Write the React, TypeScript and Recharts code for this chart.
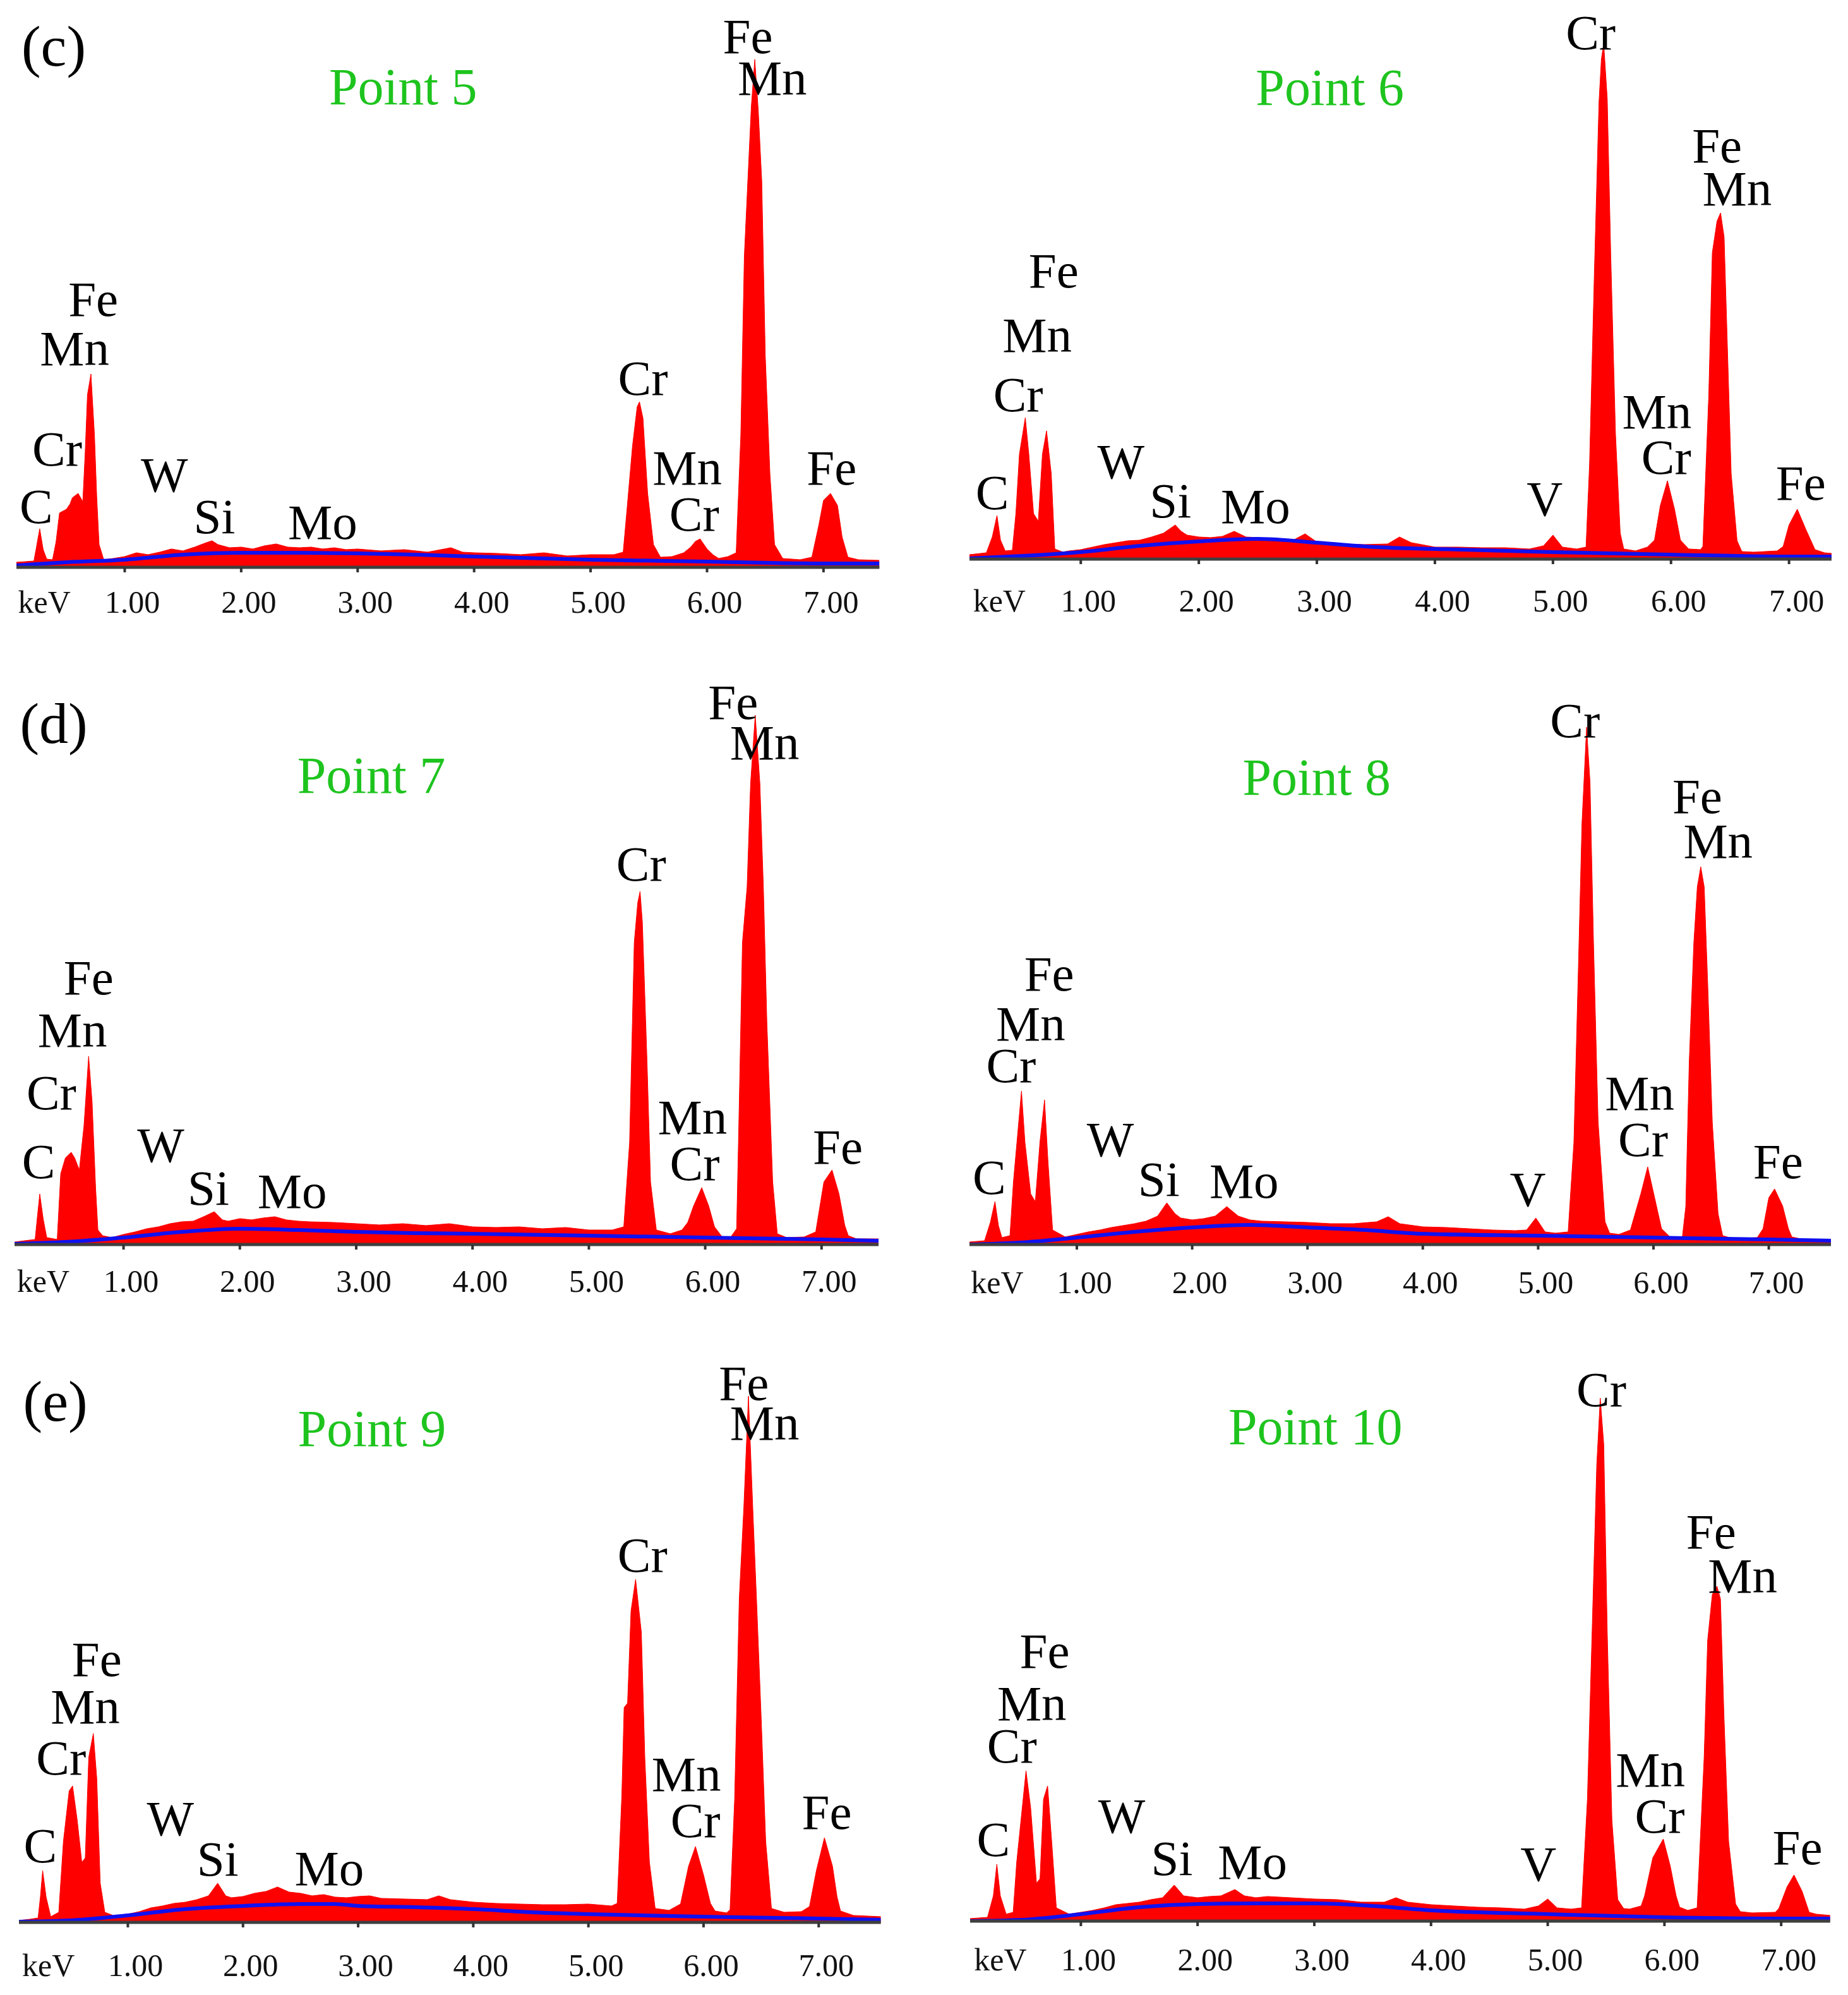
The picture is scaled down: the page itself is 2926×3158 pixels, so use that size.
import { useMemo } from "react";
import { Area, ComposedChart, Line, Scatter, XAxis, YAxis } from "recharts";

const SERIF = "'Liberation Serif', 'Times New Roman', Times, serif";
const RED = "#ff0000";
const BLUE = "#1010f0";
const GREEN = "#1ec41e";
const PLOT_H = 960;
const AXIS_H = 100;

const keVTicks = [1, 2, 3, 4, 5, 6, 7];

// [keV, counts] (counts = height above the axis)
const point5Spectrum = [
  [0.07, 8], [0.15, 9], [0.22, 10], [0.24, 30], [0.27, 61], [0.3, 28], [0.33, 13], [0.38, 12],
  [0.41, 40], [0.44, 86], [0.5, 92], [0.53, 100], [0.55, 110], [0.6, 117], [0.64, 104], [0.66, 180],
  [0.68, 273], [0.71, 306], [0.74, 210], [0.76, 110], [0.78, 36], [0.82, 12], [0.9, 14], [1.0, 17],
  [1.1, 23], [1.2, 20], [1.3, 24], [1.4, 29], [1.5, 26], [1.6, 32], [1.7, 39], [1.75, 42], [1.8, 36],
  [1.9, 31], [2.0, 32], [2.1, 29], [2.2, 34], [2.3, 37], [2.4, 32], [2.5, 31], [2.6, 32], [2.7, 29],
  [2.8, 31], [2.9, 28], [3.0, 29], [3.2, 26], [3.4, 28], [3.6, 24], [3.8, 31], [3.9, 24], [4.0, 23],
  [4.2, 22], [4.4, 20], [4.6, 23], [4.8, 18], [5.0, 20], [5.2, 20], [5.28, 24], [5.31, 86], [5.36, 192],
  [5.4, 254], [5.42, 262], [5.45, 236], [5.49, 117], [5.54, 36], [5.6, 16], [5.7, 17], [5.8, 23],
  [5.86, 32], [5.9, 41], [5.94, 45], [6.0, 29], [6.05, 20], [6.1, 14], [6.18, 17], [6.25, 23],
  [6.29, 210], [6.32, 492], [6.35, 611], [6.38, 729], [6.41, 804], [6.44, 723], [6.47, 611], [6.5, 336],
  [6.54, 148], [6.58, 36], [6.65, 14], [6.8, 12], [6.9, 16], [6.96, 67], [7.0, 106], [7.06, 117],
  [7.12, 98], [7.16, 48], [7.21, 16], [7.3, 12], [7.48, 11],
];
const point5Background = [
  [0.07, 3], [0.5, 8], [1.0, 12], [1.5, 20], [2.0, 23], [2.5, 23], [3.0, 22], [3.5, 20], [4.0, 17],
  [5.0, 12], [6.0, 9], [7.0, 6], [7.48, 6],
];
const point5Peaks = [
  ["Fe", 6.35, 814], ["Mn", 6.56, 748], ["Fe", 0.73, 398], ["Mn", 0.57, 320], ["Cr", 0.42, 161],
  ["C", 0.24, 70], ["W", 1.34, 120], ["Si", 1.77, 54], ["Mo", 2.7, 45], ["Cr", 5.45, 273],
  ["Mn", 5.83, 131], ["Cr", 5.89, 58], ["Fe", 7.07, 131],
];

const point6Spectrum = [
  [0.057, 7], [0.2, 10], [0.25, 35], [0.29, 69], [0.32, 30], [0.36, 13], [0.42, 14], [0.45, 72],
  [0.48, 166], [0.53, 224], [0.56, 166], [0.6, 72], [0.64, 60], [0.675, 166], [0.71, 203], [0.75, 135],
  [0.78, 16], [0.85, 11], [0.9, 13], [1.0, 15], [1.1, 19], [1.2, 23], [1.3, 26], [1.4, 29], [1.5, 30],
  [1.6, 35], [1.7, 41], [1.8, 54], [1.85, 44], [1.9, 38], [2.0, 35], [2.1, 34], [2.2, 36], [2.3, 44],
  [2.4, 35], [2.5, 34], [2.6, 32], [2.8, 30], [2.9, 40], [3.0, 27], [3.2, 24], [3.4, 23], [3.6, 24],
  [3.7, 35], [3.8, 26], [4.0, 19], [4.2, 19], [4.4, 18], [4.6, 18], [4.8, 16], [4.92, 21], [5.0, 38],
  [5.08, 19], [5.2, 16], [5.28, 19], [5.31, 150], [5.35, 448], [5.39, 723], [5.41, 791], [5.43, 816],
  [5.46, 729], [5.49, 479], [5.53, 198], [5.57, 41], [5.6, 16], [5.7, 13], [5.8, 19], [5.86, 30],
  [5.91, 85], [5.97, 124], [6.03, 79], [6.08, 30], [6.15, 16], [6.25, 15], [6.27, 20], [6.32, 260],
  [6.35, 485], [6.39, 535], [6.42, 548], [6.45, 510], [6.48, 323], [6.51, 135], [6.56, 29], [6.6, 12],
  [6.7, 11], [6.9, 13], [6.95, 20], [7.0, 54], [7.07, 79], [7.14, 48], [7.22, 15], [7.3, 10], [7.36, 9],
];
const point6Background = [
  [0.057, 1], [0.5, 5], [1.0, 11], [1.5, 21], [2.0, 28], [2.5, 32], [3.0, 26], [3.5, 19], [4.0, 16],
  [5.0, 11], [6.0, 7], [7.0, 4], [7.36, 4],
];
const point6Peaks = [
  ["Cr", 5.32, 807], ["Fe", 6.39, 628], ["Mn", 6.56, 560], ["Fe", 0.77, 430], ["Mn", 0.63, 328],
  ["Cr", 0.47, 234], ["C", 0.25, 79], ["W", 1.34, 128], ["Si", 1.76, 66], ["Mo", 2.48, 57],
  ["V", 4.93, 69], ["Mn", 5.88, 207], ["Cr", 5.96, 135], ["Fe", 7.1, 94],
];

const point7Spectrum = [
  [0.063, 4], [0.15, 6], [0.24, 8], [0.26, 45], [0.28, 80], [0.31, 40], [0.34, 11], [0.4, 9], [0.43, 8],
  [0.46, 112], [0.5, 137], [0.55, 146], [0.58, 137], [0.62, 118], [0.66, 188], [0.7, 298], [0.73, 225],
  [0.76, 90], [0.78, 23], [0.82, 14], [0.9, 11], [1.0, 16], [1.1, 20], [1.2, 25], [1.3, 28], [1.4, 33],
  [1.5, 36], [1.6, 37], [1.7, 45], [1.78, 52], [1.85, 39], [1.9, 37], [2.0, 41], [2.1, 39], [2.2, 42],
  [2.3, 44], [2.4, 39], [2.5, 37], [2.6, 36], [2.8, 35], [3.0, 33], [3.2, 31], [3.4, 33], [3.6, 30],
  [3.8, 33], [4.0, 28], [4.2, 27], [4.4, 28], [4.6, 25], [4.8, 27], [5.0, 23], [5.2, 23], [5.3, 28],
  [5.35, 162], [5.39, 478], [5.42, 541], [5.44, 559], [5.46, 510], [5.5, 289], [5.53, 99], [5.58, 23],
  [5.7, 17], [5.8, 23], [5.85, 35], [5.9, 61], [5.97, 90], [6.03, 61], [6.08, 28], [6.15, 11],
  [6.22, 12], [6.27, 25], [6.29, 200], [6.32, 478], [6.36, 566], [6.39, 730], [6.43, 838], [6.47, 730],
  [6.5, 566], [6.53, 352], [6.58, 99], [6.62, 17], [6.7, 11], [6.85, 12], [6.95, 20], [7.02, 99],
  [7.09, 118], [7.15, 80], [7.2, 30], [7.23, 14], [7.3, 9], [7.49, 9],
];
const point7Background = [
  [0.063, 1], [0.5, 4], [1.0, 11], [1.5, 20], [2.0, 25], [2.5, 23], [3.0, 20], [3.5, 18], [4.0, 17],
  [5.0, 14], [6.0, 11], [7.0, 8], [7.49, 6],
];
const point7Peaks = [
  ["Fe", 6.24, 832], ["Mn", 6.51, 768], ["Cr", 5.45, 576], ["Fe", 0.7, 396], ["Mn", 0.56, 313],
  ["Cr", 0.38, 214], ["C", 0.27, 105], ["W", 1.32, 131], ["Si", 1.73, 63], ["Mo", 2.45, 58],
  ["Mn", 5.89, 175], ["Cr", 5.91, 102], ["Fe", 7.14, 128],
];

const point8Spectrum = [
  [0.069, 4], [0.2, 6], [0.25, 35], [0.29, 68], [0.32, 30], [0.35, 11], [0.42, 14], [0.45, 99],
  [0.52, 243], [0.55, 162], [0.6, 80], [0.64, 68], [0.68, 162], [0.72, 229], [0.75, 131], [0.79, 23],
  [0.9, 12], [1.0, 16], [1.1, 20], [1.2, 23], [1.3, 27], [1.4, 30], [1.5, 33], [1.6, 37], [1.7, 45],
  [1.78, 66], [1.85, 49], [1.9, 42], [2.0, 39], [2.1, 41], [2.2, 45], [2.3, 60], [2.4, 45], [2.5, 39],
  [2.6, 37], [2.8, 36], [3.0, 35], [3.2, 33], [3.4, 33], [3.6, 36], [3.7, 44], [3.8, 33], [4.0, 28],
  [4.2, 27], [4.4, 25], [4.6, 23], [4.8, 22], [4.9, 23], [4.98, 42], [5.06, 20], [5.15, 18], [5.26, 20],
  [5.31, 162], [5.35, 446], [5.38, 667], [5.42, 819], [5.45, 731], [5.48, 478], [5.52, 194], [5.58, 36],
  [5.62, 18], [5.7, 16], [5.8, 23], [5.89, 80], [5.95, 123], [6.01, 74], [6.07, 25], [6.15, 11],
  [6.25, 11], [6.28, 60], [6.31, 289], [6.35, 478], [6.38, 566], [6.41, 598], [6.44, 566], [6.47, 415],
  [6.51, 194], [6.56, 49], [6.6, 14], [6.7, 9], [6.9, 11], [6.95, 25], [7.0, 74], [7.05, 88],
  [7.12, 61], [7.17, 25], [7.2, 12], [7.3, 8], [7.54, 6],
];
const point8Background = [
  [0.069, 0], [0.5, 3], [1.0, 11], [1.5, 20], [2.0, 27], [2.5, 31], [3.0, 27], [3.5, 23], [4.0, 17],
  [5.0, 14], [6.0, 11], [7.0, 8], [7.54, 6],
];
const point8Peaks = [
  ["Cr", 5.32, 803], ["Fe", 6.38, 683], ["Mn", 6.56, 612], ["Fe", 0.76, 402], ["Mn", 0.6, 323],
  ["Cr", 0.43, 257], ["C", 0.24, 80], ["W", 1.29, 140], ["Si", 1.71, 77], ["Mo", 2.45, 74],
  ["V", 4.91, 61], ["Mn", 5.88, 213], ["Cr", 5.91, 140], ["Fe", 7.08, 105],
];

const point9Spectrum = [
  [0.054, 3], [0.15, 5], [0.22, 7], [0.24, 40], [0.26, 82], [0.29, 40], [0.33, 9], [0.4, 16],
  [0.44, 128], [0.49, 208], [0.52, 216], [0.56, 162], [0.6, 95], [0.63, 102], [0.66, 261], [0.7, 299],
  [0.73, 228], [0.76, 62], [0.8, 16], [0.9, 9], [1.0, 13], [1.1, 17], [1.2, 23], [1.3, 26], [1.4, 30],
  [1.5, 32], [1.6, 36], [1.7, 42], [1.78, 62], [1.85, 42], [1.9, 39], [2.0, 41], [2.1, 46], [2.2, 49],
  [2.3, 56], [2.4, 48], [2.5, 46], [2.6, 42], [2.7, 44], [2.8, 40], [2.9, 39], [3.0, 41], [3.1, 42],
  [3.2, 38], [3.4, 37], [3.6, 36], [3.7, 42], [3.8, 36], [4.0, 32], [4.2, 30], [4.4, 29], [4.6, 28],
  [4.8, 28], [5.0, 29], [5.2, 26], [5.25, 30], [5.29, 200], [5.31, 340], [5.34, 347], [5.37, 493],
  [5.41, 543], [5.46, 459], [5.49, 261], [5.53, 95], [5.58, 22], [5.7, 19], [5.8, 29], [5.87, 89],
  [5.93, 120], [6.0, 75], [6.06, 30], [6.1, 18], [6.2, 15], [6.23, 20], [6.27, 195], [6.31, 512],
  [6.35, 658], [6.39, 833], [6.43, 645], [6.46, 512], [6.5, 327], [6.54, 128], [6.59, 22], [6.7, 16],
  [6.85, 17], [6.92, 25], [6.98, 82], [7.05, 134], [7.12, 89], [7.16, 40], [7.19, 18], [7.3, 11],
  [7.54, 9],
];
const point9Background = [
  [0.054, 1], [0.5, 3], [1.0, 11], [1.5, 21], [2.0, 26], [2.5, 29], [2.8, 29], [3.0, 26], [3.5, 24],
  [4.0, 21], [4.5, 16], [5.0, 13], [6.0, 9], [7.0, 6], [7.54, 4],
];
const point9Peaks = [
  ["Fe", 6.35, 827], ["Mn", 6.53, 764], ["Cr", 5.47, 555], ["Fe", 0.73, 390], ["Mn", 0.63, 315],
  ["Cr", 0.42, 234], ["C", 0.24, 95], ["W", 1.37, 138], ["Si", 1.78, 74], ["Mo", 2.75, 59],
  ["Mn", 5.85, 208], ["Cr", 5.93, 135], ["Fe", 7.07, 148],
];

const point10Spectrum = [
  [0.051, 4], [0.2, 6], [0.25, 40], [0.28, 90], [0.31, 40], [0.36, 11], [0.42, 14], [0.45, 93],
  [0.53, 238], [0.57, 179], [0.62, 60], [0.65, 67], [0.68, 193], [0.715, 214], [0.75, 126], [0.79, 21],
  [0.9, 11], [1.0, 14], [1.1, 17], [1.2, 21], [1.3, 26], [1.4, 28], [1.5, 30], [1.6, 34], [1.7, 37],
  [1.8, 57], [1.88, 40], [2.0, 37], [2.1, 39], [2.2, 40], [2.32, 50], [2.4, 40], [2.5, 37], [2.6, 39],
  [2.8, 37], [3.0, 35], [3.2, 34], [3.4, 30], [3.6, 30], [3.7, 37], [3.8, 30], [4.0, 26], [4.2, 24],
  [4.4, 22], [4.6, 21], [4.8, 19], [4.92, 24], [5.0, 35], [5.08, 21], [5.2, 19], [5.29, 21],
  [5.34, 193], [5.38, 457], [5.42, 722], [5.45, 828], [5.48, 755], [5.51, 457], [5.55, 160], [5.6, 34],
  [5.65, 20], [5.7, 19], [5.8, 24], [5.83, 40], [5.9, 100], [5.99, 130], [6.05, 87], [6.1, 40],
  [6.13, 22], [6.2, 17], [6.28, 21], [6.34, 259], [6.37, 444], [6.41, 517], [6.45, 530], [6.48, 510],
  [6.51, 325], [6.55, 126], [6.61, 27], [6.65, 15], [6.75, 13], [6.95, 14], [6.98, 20], [7.05, 54],
  [7.11, 73], [7.18, 47], [7.24, 14], [7.3, 11], [7.42, 9],
];
const point10Background = [
  [0.051, 0], [0.5, 2], [1.0, 11], [1.5, 22], [2.0, 27], [2.5, 28], [3.0, 28], [3.5, 24], [4.0, 17],
  [5.0, 11], [6.0, 6], [7.0, 4], [7.42, 4],
];
const point10Peaks = [
  ["Cr", 5.46, 815], ["Fe", 6.4, 590], ["Mn", 6.67, 520], ["Fe", 0.69, 401], ["Mn", 0.58, 318],
  ["Cr", 0.41, 251], ["C", 0.25, 103], ["W", 1.35, 140], ["Si", 1.78, 73], ["Mo", 2.47, 67],
  ["V", 4.92, 64], ["Mn", 5.88, 213], ["Cr", 5.96, 140], ["Fe", 7.14, 90],
];

// layout of the six panels, in page pixels
const panels = [
  { spectrum: point5Spectrum, background: point5Background, peaks: point5Peaks, title: "Point 5", titleAt: [3.39, 733], letter: "(c)", letterAt: [0.39, 794], x0: 13.4, ppk: 184.4, kMin: 0.07, kMax: 7.48, base: 898, gap: 54 },
  { spectrum: point6Spectrum, background: point6Background, peaks: point6Peaks, title: "Point 6", titleAt: [3.11, 719], letter: null, letterAt: null, x0: 1524, ppk: 186.9, kMin: 0.057, kMax: 7.36, base: 885, gap: 65 },
  { spectrum: point7Spectrum, background: point7Background, peaks: point7Peaks, title: "Point 7", titleAt: [3.13, 715], letter: "(d)", letterAt: [0.4, 794], x0: 11.6, ppk: 184.2, kMin: 0.063, kMax: 7.49, base: 1970, gap: 57 },
  { spectrum: point8Spectrum, background: point8Background, peaks: point8Peaks, title: "Point 8", titleAt: [3.08, 712], letter: null, letterAt: null, x0: 1522, ppk: 182.6, kMin: 0.069, kMax: 7.54, base: 1970, gap: 59 },
  { spectrum: point9Spectrum, background: point9Background, peaks: point9Peaks, title: "Point 9", titleAt: [3.12, 754], letter: "(e)", letterAt: [0.37, 794], x0: 20, ppk: 182.3, kMin: 0.054, kMax: 7.54, base: 3043, gap: 67 },
  { spectrum: point10Spectrum, background: point10Background, peaks: point10Peaks, title: "Point 10", titleAt: [3.01, 755], letter: null, letterAt: null, x0: 1527, ppk: 184.8, kMin: 0.051, kMax: 7.42, base: 3041, gap: 60 },
];

const markStyle: Record<string, { size: number; color: string }> = {
  peak: { size: 79, color: "#000" },
  title: { size: 82, color: GREEN },
  letter: { size: 92, color: "#000" },
};

function mergeRows(spectrum: number[][], background: number[][]) {
  const byKev = new Map<number, { kev: number; count?: number; bg?: number }>();
  for (const [kev, count] of spectrum) byKev.set(kev, { kev, count });
  for (const [kev, bg] of background) {
    const row = byKev.get(kev) ?? { kev };
    row.bg = bg;
    byKev.set(kev, row);
  }
  return [...byKev.values()].sort((a, b) => a.kev - b.kev);
}

function MarkText(props: any) {
  const { cx, cy, payload } = props;
  const s = markStyle[payload.kind];
  return (
    <text x={cx} y={cy} textAnchor="middle" fontFamily={SERIF} fontSize={s.size} fill={s.color}>
      {payload.text}
    </text>
  );
}

// tick labels sit a little right of their tick, as in the original software
function KevTick(props: any) {
  const { x, y, payload, gap } = props;
  return (
    <text x={x + 12} y={y + gap + 10} textAnchor="middle" fontFamily={SERIF} fontSize={50} fill="#111">
      {Number(payload.value).toFixed(2)}
    </text>
  );
}

function KevUnit(props: any) {
  const vb = props.viewBox;
  if (!vb) return null;
  return (
    <text x={vb.x + props.dx} y={vb.y + props.gap + 18} textAnchor="middle" fontFamily={SERIF} fontSize={50} fill="#111">
      keV
    </text>
  );
}

function Panel({ p }: { p: (typeof panels)[number] }) {
  const rows = useMemo(() => mergeRows(p.spectrum, p.background), [p]);
  const marks = useMemo(() => {
    const list = p.peaks.map(([text, kev, h]) => ({ text, kev, h, kind: "peak" }));
    list.push({ text: p.title, kev: p.titleAt[0], h: p.titleAt[1], kind: "title" });
    if (p.letter && p.letterAt) list.push({ text: p.letter, kev: p.letterAt[0], h: p.letterAt[1], kind: "letter" });
    return list;
  }, [p]);
  const width = (p.kMax - p.kMin) * p.ppk;

  return (
    <div style={{ position: "absolute", left: p.x0 + p.kMin * p.ppk, top: p.base - PLOT_H }}>
      <ComposedChart
        width={width}
        height={PLOT_H + AXIS_H}
        data={rows}
        margin={{ top: 0, right: 0, bottom: 0, left: 0 }}
      >
        <XAxis
          type="number"
          dataKey="kev"
          domain={[p.kMin, p.kMax]}
          allowDataOverflow
          ticks={keVTicks}
          interval={0}
          height={AXIS_H}
          tickSize={8}
          tickMargin={0}
          axisLine={{ stroke: "#3f3f3f", strokeWidth: 5 }}
          tickLine={{ stroke: "#333", strokeWidth: 4 }}
          tick={(t: any) => <KevTick {...t} gap={p.gap} />}
          label={(l: any) => <KevUnit {...l} dx={(0.31 - p.kMin) * p.ppk} gap={p.gap} />}
        />
        <YAxis type="number" hide domain={[0, PLOT_H]} allowDataOverflow />
        <Area
          type="linear"
          dataKey="count"
          stroke={RED}
          strokeWidth={1}
          fill={RED}
          fillOpacity={1}
          connectNulls
          dot={false}
          activeDot={false}
          isAnimationActive={false}
        />
        <Line
          type="monotone"
          dataKey="bg"
          stroke={BLUE}
          strokeWidth={6}
          dot={false}
          activeDot={false}
          connectNulls
          isAnimationActive={false}
        />
        <Scatter data={marks} dataKey="h" shape={MarkText} isAnimationActive={false} />
      </ComposedChart>
    </div>
  );
}

export default function App() {
  return (
    <div
      style={{
        position: "absolute",
        left: 0,
        top: 0,
        width: 2926,
        height: 3158,
        background: "#fff",
        overflow: "hidden",
      }}
    >
      {panels.map((p) => (
        <Panel key={p.title} p={p} />
      ))}
    </div>
  );
}
